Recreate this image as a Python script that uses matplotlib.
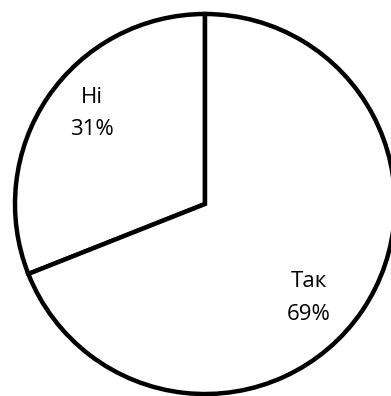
import matplotlib
matplotlib.use("Agg")
import matplotlib.pyplot as plt

# data
labels = ["Ні", "Так"]
values = [31, 69]
pct_labels = ["31%", "69%"]

W, H = 391, 396
cx, cy, R = 205, 204, 190  # pie centre / radius in pixels

fig = plt.figure(figsize=(W / 100, H / 100), dpi=100)
ax = fig.add_axes([0, 0, 1, 1])

ax.pie(values, startangle=90, counterclock=True,
       colors=["white", "white"],
       wedgeprops=dict(edgecolor="black", linewidth=3.2, joinstyle="miter"))

ax.set_xlim(-cx / R, (W - cx) / R)
ax.set_ylim(-(H - cy) / R, cy / R)
ax.set_aspect("equal", adjustable="box")
ax.axis("off")

# label positions (pixels)
label_pos = [(92, 113.5), (309, 298)]
for lab, pct, (px, py) in zip(labels, pct_labels, label_pos):
    ax.text((px - cx) / R, (cy - py) / R, lab + "\n" + pct,
            ha="center", va="center", fontsize=16, linespacing=1.7,
            family=["Open Sans", "DejaVu Sans"], color="black")

fig.savefig("out.png", dpi=100, facecolor="white")
